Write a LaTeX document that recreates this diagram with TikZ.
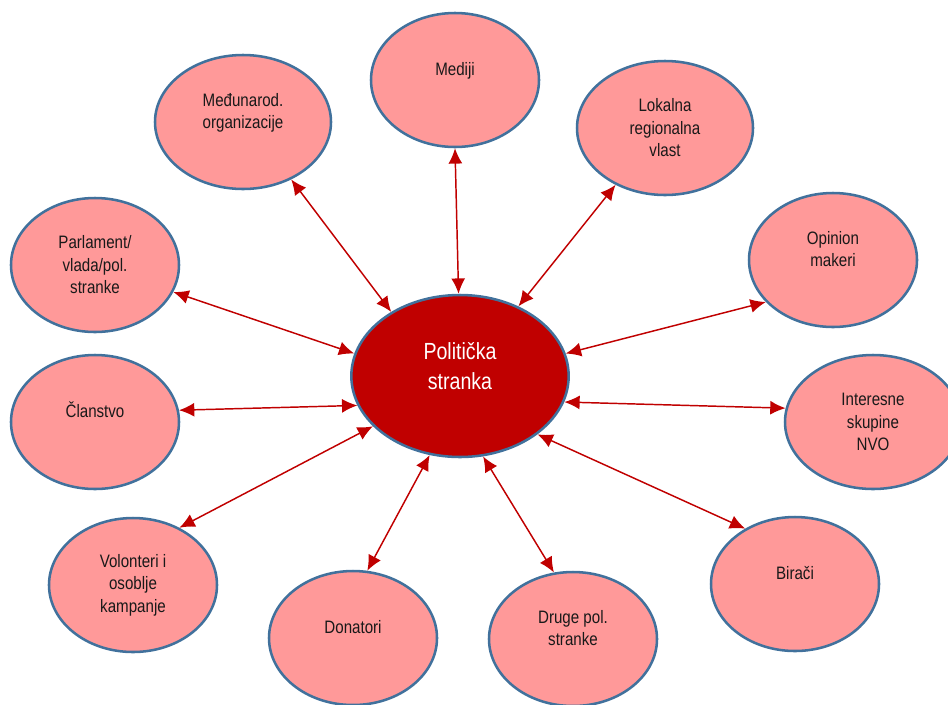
\documentclass[tikz,border=0pt]{standalone}
\usepackage{fontspec}
\setmainfont{Liberation Sans}[FakeStretch=0.84]
\usetikzlibrary{arrows.meta,shapes.geometric}
\definecolor{nodepink}{HTML}{FF9999}
\definecolor{nodeline}{HTML}{41719C}
\definecolor{partyred}{HTML}{C00000}

\begin{document}
\begin{tikzpicture}[<->,>={Latex[length=11.5pt,width=10.5pt]},x=0.75pt,y=-0.75pt,
  main node/.style={ellipse,fill=partyred,draw=nodeline,line width=1.9pt,minimum width=163pt,
    minimum height=121.5pt,inner sep=0pt,align=center,text=white,
    font=\fontsize{17.5}{23}\selectfont,text height=36pt,text depth=15.4pt},
  side node/.style={ellipse,fill=nodepink,draw=nodeline,line width=1.9pt,minimum width=126pt,
    minimum height=100.5pt,inner sep=0pt,align=center,text=black!90,
    font=\fontsize{13.5}{16.9}\selectfont},
  wide/.style={minimum width=132pt},
  raised/.style={text height=#1,text depth=17pt}]

  \useasboundingbox (0,0) rectangle (948,704);

  \node[main node] (pol) at (460,376) {Politička\\stranka};

  \node[side node,wide,raised=27pt] (med) at (243,122) {Međunarod.\\organizacije};
  \node[side node,raised=10pt] (medi) at (455,80) {Mediji};
  \node[side node,wide] (lok) at (665,128) {Lokalna\\regionalna\\vlast};
  \node[side node,raised=27pt] (opi) at (833,260) {Opinion\\makeri};
  \node[side node] (par) at (95,265) {Parlament/\\vlada/pol.\\stranke};
  \node[side node,raised=10pt] (cla) at (95,422) {Članstvo};
  \node[side node,wide] (int) at (873,422) {Interesne\\skupine\\NVO};
  \node[side node] (vol) at (133,585) {Volonteri i\\osoblje\\kampanje};
  \node[side node,raised=10pt] (don) at (353,638) {Donatori};
  \node[side node,raised=27pt] (dru) at (573,639) {Druge pol.\\stranke};
  \node[side node,raised=10pt] (bir) at (795,584) {Birači};

  \path[every edge/.append style={draw=partyred,line width=1.1pt}]
    (pol.137.5) edge (med.-50.7)
    (pol.91.4)  edge (medi.-90.8)
    (pol.50)    edge (lok.-131)
    (pol.12.4)  edge (opi.-148.4)
    (pol.168.5) edge (par.-19.7)
    (pol.196.5) edge (cla.8.9)
    (pol.-14.8) edge (int.171.6)
    (pol.210.4) edge (vol.51.6)
    (pol.-111.3) edge (don.78.9)
    (pol.-74.3) edge (dru.106.2)
    (pol.-37.3) edge (bir.132.3);
\end{tikzpicture}
\end{document}
